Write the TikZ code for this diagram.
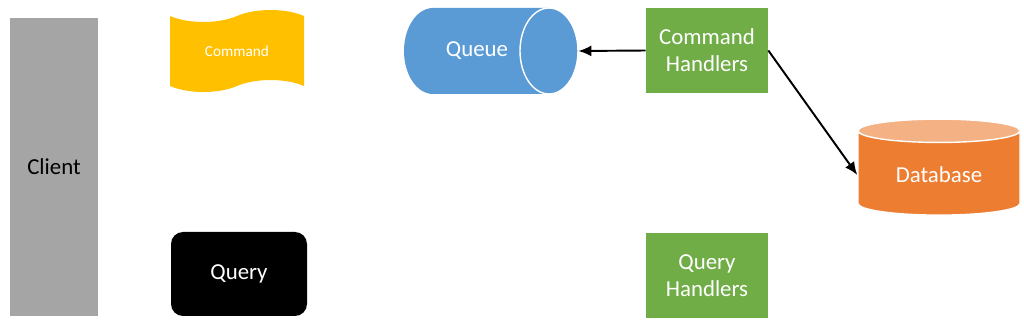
\documentclass[tikz,border=0pt]{standalone}
\usepackage{fontspec}
\setmainfont{Carlito}
\usetikzlibrary{arrows.meta,shapes.geometric,shapes.symbols}
\definecolor{clientgray}{HTML}{A5A5A5}
\definecolor{cmdyellow}{HTML}{FFC000}
\definecolor{queueblue}{HTML}{5B9BD5}
\definecolor{handlergreen}{HTML}{70AD47}
\definecolor{dborange}{HTML}{ED7D31}
\definecolor{dbtop}{HTML}{F4B183}
\tikzset{
  flowarrow/.style={-{Latex[length=2.6mm,width=2.2mm]}, line width=1.1pt},
  boxnode/.style={inner sep=2pt, align=center, font=\fontsize{13}{15.5}\selectfont, text=white},
  handlerbox/.style={boxnode, fill=handlergreen, minimum width=2.44cm, minimum height=1.70cm}
}
\begin{document}
\begin{tikzpicture}
  \useasboundingbox (0,0) rectangle (20.48,-6.44);
  \node[boxnode, fill=clientgray, text=black, minimum width=1.76cm, minimum height=5.96cm] (client) at (1.08,-3.34) {Client};
  \node[boxnode, tape, fill=cmdyellow, tape bend height=0.24cm, minimum width=2.68cm, minimum height=1.64cm, font=\fontsize{8.7}{10}\selectfont] (cmd) at (4.74,-1.02) {Command};
  \node[boxnode, fill=black, rounded corners=0.24cm, minimum width=2.72cm, minimum height=1.68cm] (query) at (4.78,-5.48) {Query};
  % queue drawn as a lying cylinder
  \node[inner sep=0, minimum width=3.48cm, minimum height=1.72cm] (queue) at (9.82,-1.02) {};
  \fill[queueblue] (8.66,-0.16) -- (10.98,-0.16) arc (90:-90:0.58 and 0.86) -- (8.66,-1.88) arc (270:90:0.58 and 0.86) -- cycle;
  \draw[white, line width=0.8pt] (10.98,-1.02) ellipse (0.58 and 0.86);
  \node[boxnode] (queuetext) at (9.54,-1.02) {Queue};
  \node[handlerbox] (cmdh) at (14.14,-1.01) {Command\\Handlers};
  \node[handlerbox] (qryh) at (14.14,-5.51) {Query\\Handlers};
  \node[boxnode, cylinder, shape border rotate=90, draw=white, line width=0.8pt, cylinder uses custom fill, cylinder body fill=dborange, cylinder end fill=dbtop, aspect=0.25, minimum width=3.24cm, minimum height=1.92cm] (db) at (18.78,-3.50) {Database};
  \draw[flowarrow] (cmdh.west) -- (queue.east);
  \draw[flowarrow] (cmdh.east) -- (db.west);
\end{tikzpicture}
\end{document}
